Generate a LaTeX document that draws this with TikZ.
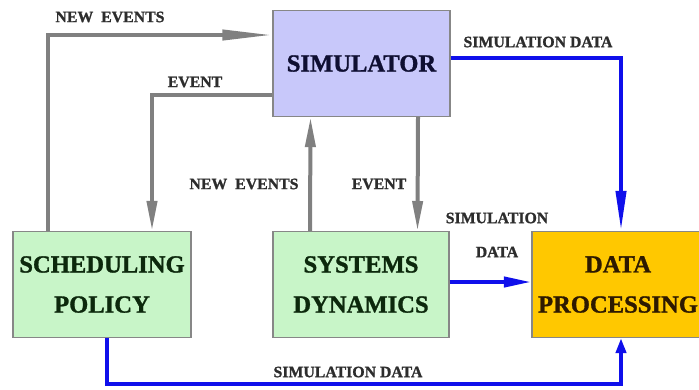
\documentclass[tikz,border=0pt]{standalone}
\usepackage{fontspec}
\setmainfont{Liberation Serif}[BoldFont={Liberation Serif Bold}, BoldFeatures={FakeBold=1.2}]
\usetikzlibrary{arrows.meta}
\definecolor{simfill}{RGB}{200,200,250}
\definecolor{greenfill}{RGB}{200,245,200}
\definecolor{datafill}{RGB}{255,200,0}
\definecolor{boxline}{RGB}{135,135,135}
\definecolor{flowgray}{RGB}{128,128,128}
\definecolor{flowblue}{RGB}{15,15,235}
\definecolor{labeltext}{RGB}{45,45,45}
\begin{document}
\begin{tikzpicture}
    [
        block/.style={rectangle, draw=boxline, line width=0.6pt, align=center,
            minimum height=2.12cm, font=\fontsize{14}{22.8}\selectfont\bfseries},
        event/.style={draw=flowgray, line width=0.08cm,
            -{Triangle[length=0.6cm, width=0.2cm]}},
        data/.style={draw=flowblue, line width=0.08cm,
            -{Triangle[length=0.55cm, width=0.2cm]}},
        lbl/.style={text=labeltext, font=\fontsize{9}{11}\selectfont\bfseries},
    ]
    \useasboundingbox (0,0) rectangle (13.98,-7.78);

    \node (sim) at (7.23,-1.27) [block, fill=simfill, minimum width=3.54cm,
        text={rgb,255:red,15;green,15;blue,50}] {SIMULATOR};
    \node (sched) at (2.04,-5.69) [block, fill=greenfill, minimum width=3.56cm,
        text={rgb,255:red,12;green,40;blue,12}] {SCHEDULING\\POLICY};
    \node (sys) at (7.22,-5.69) [block, fill=greenfill, minimum width=3.52cm,
        text={rgb,255:red,12;green,40;blue,12}] {SYSTEMS\\DYNAMICS};
    \node (proc) at (12.36,-5.69) [block, fill=datafill, minimum width=3.44cm,
        text={rgb,255:red,45;green,25;blue,0}] {DATA\\PROCESSING};

    \draw[event, -{Triangle[length=1cm, width=0.2cm]}]
        ([xshift=-1.08cm]sched.north) |- ([yshift=0.57cm]sim.west);
    \draw[event] ([yshift=-0.63cm]sim.west) -| ([xshift=1cm]sched.north);
    \draw[event] ([xshift=-1.02cm]sys.north) -- ([xshift=-1.02cm]sim.south);
    \draw[event] ([xshift=1.13cm]sim.south) -- ([xshift=1.13cm]sys.north);

    \draw[data, -{Triangle[length=0.8cm, width=0.2cm]}]
        ([yshift=0.11cm]sim.east) -| ([xshift=0.06cm]proc.north);
    \draw[data] ([yshift=0.05cm]sys.east) -- ([yshift=0.05cm]proc.west);
    \draw[data, -{Triangle[length=0.3cm, width=0.2cm]}]
        ([xshift=0.1cm]sched.south) -- ++(0,-0.92) -| ([xshift=0.06cm]proc.south);

    \node (l1) at (2.2,-0.34) [lbl] {NEW\ \ EVENTS};
    \node (l2) at (10.76,-0.84) [lbl] {SIMULATION DATA};
    \node (l3) at (3.9,-1.64) [lbl] {EVENT};
    \node (l4) at (4.88,-3.68) [lbl] {NEW\ \ EVENTS};
    \node (l5) at (7.58,-3.68) [lbl] {EVENT};
    \node (l6) at (9.94,-4.36) [lbl] {SIMULATION};
    \node (l7) at (9.94,-5.04) [lbl] {DATA};
    \node (l8) at (6.96,-7.44) [lbl] {SIMULATION DATA};
\end{tikzpicture}
\end{document}
